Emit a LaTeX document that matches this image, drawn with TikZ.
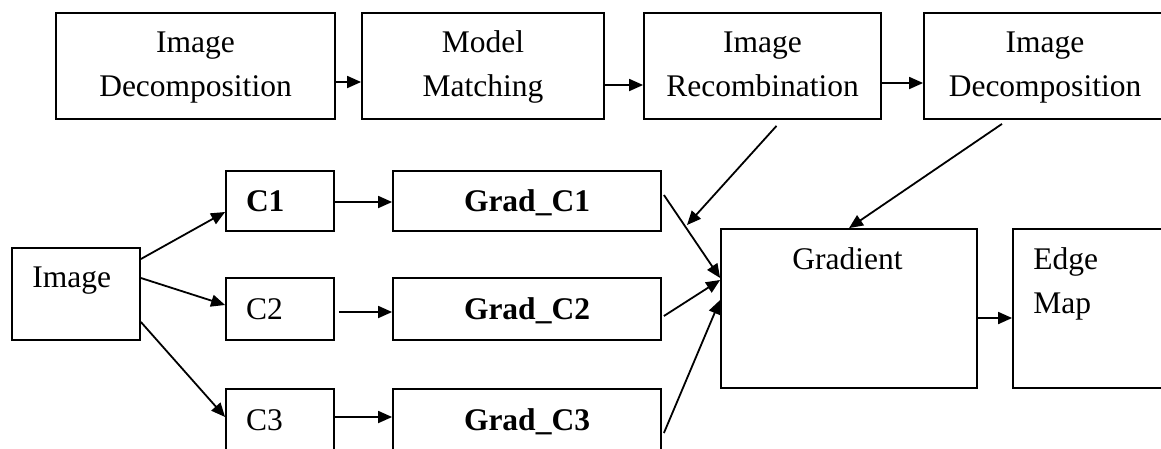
\documentclass[tikz,border=0pt]{standalone}
\usepackage{fontspec}
\setmainfont{Liberation Serif}
\usetikzlibrary{arrows.meta}
\newcommand\diagfont{\fontsize{31.5}{44}\selectfont}

\begin{document}
\begin{tikzpicture}[x=1pt,y=-1pt,
  box/.style={draw, line width=1.8pt, inner sep=0pt, font=\diagfont},
  topbox/.style={box, minimum height=106pt, align=center},
  chanbox/.style={box, text width=68pt, inner xsep=20pt, align=left,
                  text height=21pt, text depth=0pt, font=\diagfont\bfseries},
  gradbox/.style={box, minimum width=268pt, text height=21pt, text depth=0pt,
                  font=\diagfont\bfseries},
  lbl/.style={inner sep=0pt, font=\diagfont},
  arr/.style={line width=1.8pt, -{Triangle[length=14pt,width=12pt]}}
]
\clip (0,0) rectangle (1161,448);
\fill[white] (0,0) rectangle (1161,448);

% processing chain along the top
\node[topbox, minimum width=279pt] (dec1)   at (195.5,66) {\strut Image\\\strut Decomposition};
\node[topbox, minimum width=242pt] (match)  at (483,66)   {\strut Model\\\strut Matching};
\node[topbox, minimum width=237pt] (recomb) at (762.5,66) {\strut Image\\\strut Recombination};
\node[topbox, minimum width=242pt] (dec2)   at (1045,66)  {\strut Image\\\strut Decomposition};

% input image and colour channels
\node[box, minimum width=128pt, minimum height=92pt] (img) at (76,294) {};
\node[lbl, anchor=base west] (imgtxt) at ([xshift=21pt,yshift=-40pt]img.north west) {Image};

\node[chanbox, minimum height=60pt] (c1) at (280,201) {C1};
\node[chanbox, minimum height=62pt, font=\diagfont\mdseries] (c2) at (280,309) {C2};
\node[chanbox, minimum height=61pt, font=\diagfont\mdseries] (c3) at (280,419.5) {C3};

\node[gradbox, minimum height=60pt] (g1) at (527,201)   {Grad\_C1};
\node[gradbox, minimum height=62pt] (g2) at (527,309)   {Grad\_C2};
\node[gradbox, minimum height=61pt] (g3) at (527,419.5) {Grad\_C3};

% combined gradient and resulting edge map
\node[box, minimum width=256pt, minimum height=159pt] (grad) at (849,308.5) {};
\node[lbl, anchor=base west] (gradtxt) at ([xshift=72pt,yshift=-41pt]grad.north west) {Gradient};
\node[box, minimum width=160pt, minimum height=159pt] (edge) at (1093,308.5) {};
\node[lbl, anchor=north west, align=left] (edgetxt) at ([xshift=21pt,yshift=-19.5pt]edge.north west) {Edge\\Map};

% connectors
\draw[arr] ([yshift=-16pt]dec1.east) -- ([yshift=-16pt]match.west);
\draw[arr] ([yshift=-19pt]match.east) -- ([yshift=-19pt]recomb.west);
\draw[arr] ([yshift=-17pt]recomb.east) -- ([yshift=-17pt]dec2.west);

\draw[arr] ([yshift=35pt]img.east)  -- ([yshift=-11pt]c1.west);
\draw[arr] ([yshift=16pt]img.east)  -- ([yshift=4pt]c2.west);
\draw[arr] ([yshift=-28pt]img.east) -- ([yshift=2.5pt]c3.west);

\draw[arr] ([yshift=-1pt]c1.east) -- ([yshift=-1pt]g1.west);
\draw[arr] ([xshift=4pt,yshift=-3pt]c2.east) -- ([yshift=-3pt]g2.west);
\draw[arr] ([yshift=2.5pt]c3.east) -- ([yshift=2.5pt]g3.west);

\draw[arr] ([xshift=2pt,yshift=6pt]g1.east)     -- ([yshift=30.5pt]grad.west);
\draw[arr] ([xshift=2pt,yshift=-7pt]g2.east)    -- ([yshift=28.5pt]grad.west);
\draw[arr] ([xshift=2pt,yshift=-13.5pt]g3.east) -- ([yshift=8.5pt]grad.west);

\coordinate (hit) at (687,225);
\draw[arr] ([xshift=14pt,yshift=-6pt]recomb.south) -- (hit);
\draw[arr] ([xshift=-43pt,yshift=-4pt]dec2.south) -- (grad.north);

\draw[arr] ([yshift=-9.5pt]grad.east) -- ([yshift=-9.5pt]edge.west);
\end{tikzpicture}
\end{document}
